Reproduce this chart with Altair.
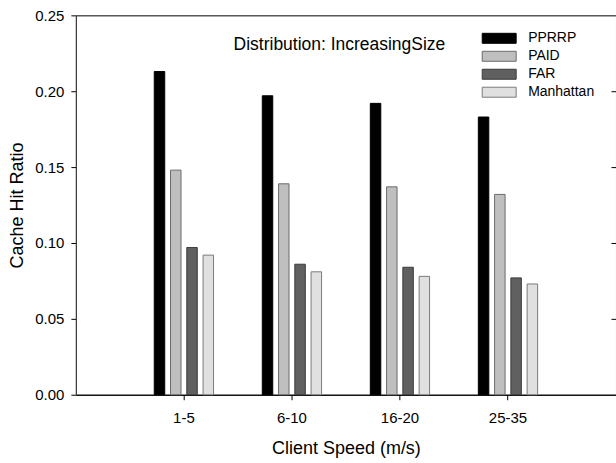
import altair as alt
import pandas as pd

speeds = ["1-5", "6-10", "16-20", "25-35"]
series = ["PPRRP", "PAID", "FAR", "Manhattan"]
pprrp = [0.213, 0.197, 0.192, 0.183]
paid = [0.148, 0.139, 0.137, 0.132]
far = [0.097, 0.086, 0.084, 0.077]
manhattan = [0.092, 0.081, 0.078, 0.073]

fills = ["#000000", "#bfbfbf", "#606060", "#e0e0e0"]
strokes = ["#000000", "#6a6a6a", "#3a3a3a", "#7a7a7a"]

rows = []
for name, vals in zip(series, [pprrp, paid, far, manhattan]):
    for s, v in zip(speeds, vals):
        rows.append({"speed": s, "method": name, "ratio": v})
df = pd.DataFrame(rows)

FONT = "Liberation Sans"

legend_kw = dict(title=None, orient="none", legendX=417, legendY=16,
                 symbolType="M-3.4,-1H3.4V1H-3.4Z", symbolSize=100,
                 symbolStrokeWidth=1, labelFontSize=14,
                 labelOffset=22, rowPadding=4, padding=0,
                 labelColor="#000", symbolOpacity=1)

bars = alt.Chart(df).mark_bar(strokeWidth=1).encode(
    x=alt.X("speed:N", sort=speeds,
            scale=alt.Scale(paddingInner=0.15, paddingOuter=0.575),
            axis=alt.Axis(title="Client Speed (m/s)", labelAngle=0, labelFontSize=15,
                          titleFontSize=18, titleFontWeight="normal", tickSize=5,
                          labelPadding=11, titlePadding=14, domainColor="#000",
                          tickColor="#000", labelColor="#000", titleColor="#000")),
    xOffset=alt.XOffset("method:N", sort=series,
                        scale=alt.Scale(paddingInner=0.356, paddingOuter=1.0)),
    y=alt.Y("ratio:Q", scale=alt.Scale(domain=[0, 0.25], nice=False, zero=True),
            axis=alt.Axis(title="Cache Hit Ratio", values=[0, 0.05, 0.1, 0.15, 0.2, 0.25],
                          format=".2f", labelFontSize=15, titleFontSize=18,
                          titleFontWeight="normal", tickSize=5, labelPadding=7,
                          titlePadding=8, domainColor="#444", tickColor="#000",
                          labelColor="#000", titleColor="#000", grid=False)),
    color=alt.Color("method:N", sort=series,
                    scale=alt.Scale(domain=series, range=fills),
                    legend=alt.Legend(**legend_kw)),
    stroke=alt.Stroke("method:N", sort=series,
                      scale=alt.Scale(domain=series, range=strokes),
                      legend=alt.Legend(**legend_kw)),
)

right_ticks = alt.Chart(df).mark_tick(opacity=0).encode(
    y=alt.Y("ratio:Q", scale=alt.Scale(domain=[0, 0.25], nice=False),
            axis=alt.Axis(orient="right", title=None, labels=False, domain=False,
                          values=[0.05, 0.1, 0.15, 0.2], tickSize=5, offset=-5,
                          tickColor="#000", grid=False)),
)

note = alt.Chart(pd.DataFrame({"t": ["Distribution: IncreasingSize"]})).mark_text(
    font=FONT, fontSize=17.5, color="#000", align="center", baseline="middle"
).encode(x=alt.value(264), y=alt.value(30), text="t:N")

chart = alt.layer(bars, right_ticks, note).resolve_scale(y="shared").resolve_axis(
    y="independent"
).properties(
    width=541, height=380,
    autosize=alt.AutoSizeParams(type="none"),
    padding={"left": 76, "top": 15, "right": 0, "bottom": 68},
).configure(font=FONT).configure_view(stroke="#000", strokeWidth=1).configure_axis(
    labelFont=FONT, titleFont=FONT
).configure_legend(labelFont=FONT)

chart.save("out.html", embed_options={"renderer": "svg", "actions": False})
